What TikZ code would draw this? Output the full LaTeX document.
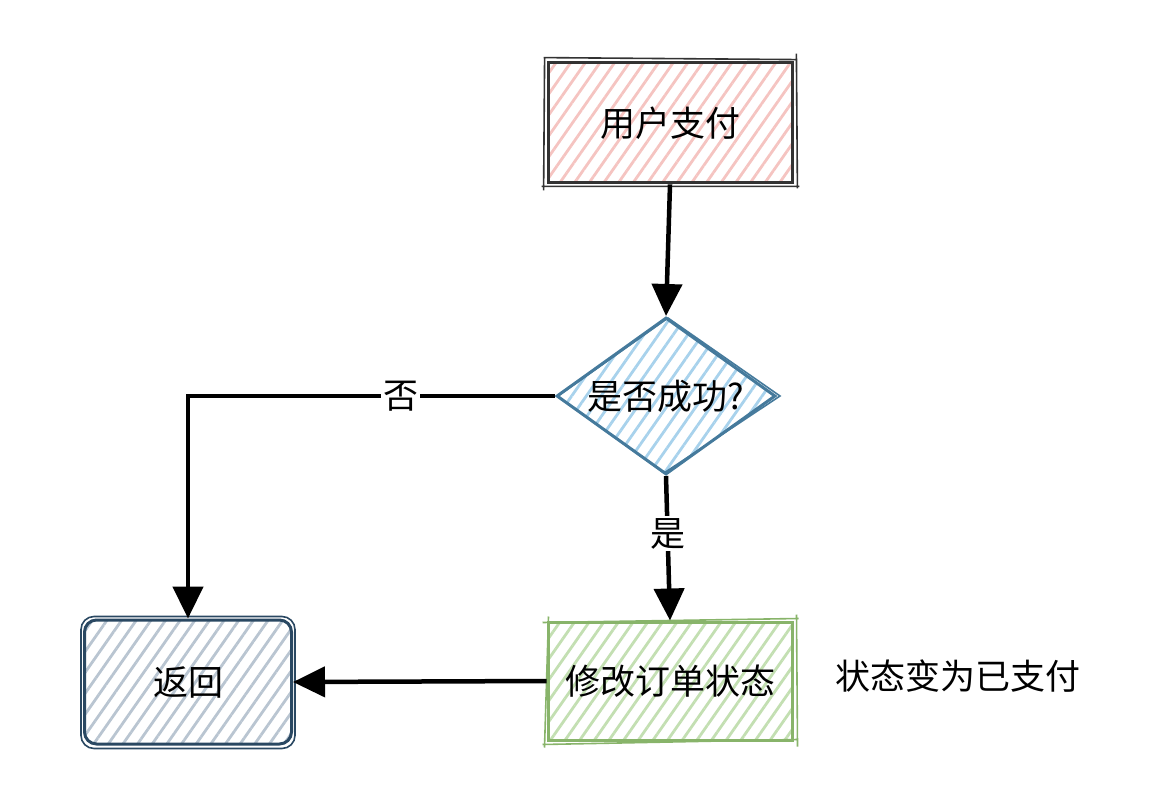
\documentclass[tikz,border=0pt]{standalone}
\usepackage{fontspec}
\newfontfamily\cjk{Noto Sans CJK SC}
\usetikzlibrary{shapes.geometric,arrows.meta,patterns.meta}
\definecolor{pinkh}{HTML}{F5C4C1}
\definecolor{pinkb}{HTML}{333333}
\definecolor{blueh}{HTML}{A8D2EC}
\definecolor{blueb}{HTML}{457A9C}
\definecolor{greenh}{HTML}{C3DFB2}
\definecolor{greenb}{HTML}{88B46A}
\definecolor{greyh}{HTML}{B9C5D1}
\definecolor{greyb}{HTML}{2A4862}
\tikzset{
  txt/.style={font=\cjk\fontsize{35}{40}\selectfont, text=black},
  hatch/.style={pattern={Lines[angle=55,distance=12pt,line width=2.8pt]}, pattern color=#1},
  box/.style={draw, line width=3pt, inner sep=0pt, txt},
  sk/.style={line width=1.6pt},
  conn/.style={line width=4.5pt, -{Triangle[length=32pt,width=30pt]}},
  lbl/.style={txt, fill=white, inner sep=2pt},
}
\begin{document}
\begin{tikzpicture}[x=1pt,y=-1pt]
\useasboundingbox (0,0) rectangle (1174,794);
% nodes
\node[box, draw=pinkb, hatch=pinkh, minimum width=244pt, minimum height=120pt] (pay) at (670,123) {用户支付};
\node[diamond, draw=blueb, line width=3pt, hatch=blueh, minimum width=219pt, minimum height=157pt, inner sep=0pt] (dec) at (666,396) {};
\node[txt] (dect) at (dec.center) {是否成功?};
\node[box, draw=greenb, hatch=greenh, minimum width=244pt, minimum height=118pt] (mod) at (670,681) {修改订单状态};
\node[box, draw=greyb, hatch=greyh, rounded corners=12pt, minimum width=207pt, minimum height=124pt] (ret) at (188,682) {返回};
\node[txt, anchor=west] (note) at (832,676) {状态变为已支付};
% sketchy second strokes
\draw[sk, draw=pinkb] ([shift={(-3,-4)}]pay.north west) -- ([shift={(4,-2)}]pay.north east) ([shift={(3,-8)}]pay.north east) -- ([shift={(4,4)}]pay.south east) ([shift={(6,2)}]pay.south east) -- ([shift={(-5,2)}]pay.south west) ([shift={(-3,6)}]pay.south west) -- ([shift={(-2,-4)}]pay.north west);
\draw[sk, draw=greenb] ([shift={(-4,2)}]mod.north west) -- ([shift={(5,-2)}]mod.north east) ([shift={(3,-6)}]mod.north east) -- ([shift={(4,5)}]mod.south east) ([shift={(4,-2)}]mod.south east) -- ([shift={(-4,3)}]mod.south west) ([shift={(-2,6)}]mod.south west) -- ([shift={(2,-4)}]mod.north west);
\draw[sk, draw=greyb, rounded corners=13pt] ([shift={(-2,-2)}]ret.north west) rectangle ([shift={(2,3)}]ret.south east);
\draw[sk, draw=blueb] ([shift={(3,0)}]dec.west) -- ([shift={(2,2)}]dec.north) -- ([shift={(3,0)}]dec.east) -- ([shift={(-2,-3)}]dec.south) -- ([shift={(2,0)}]dec.west);
% connectors
\draw[conn] (pay.south) -- (dec.north);
\draw[conn] (dec.west) -| node[lbl, pos=0.21] (no) {否} (ret.north);
\draw[conn] (dec.south) -- node[lbl, pos=0.4] (yes) {是} (mod.north);
\draw[conn] (mod.west) -- (ret.east);
\end{tikzpicture}
\end{document}
